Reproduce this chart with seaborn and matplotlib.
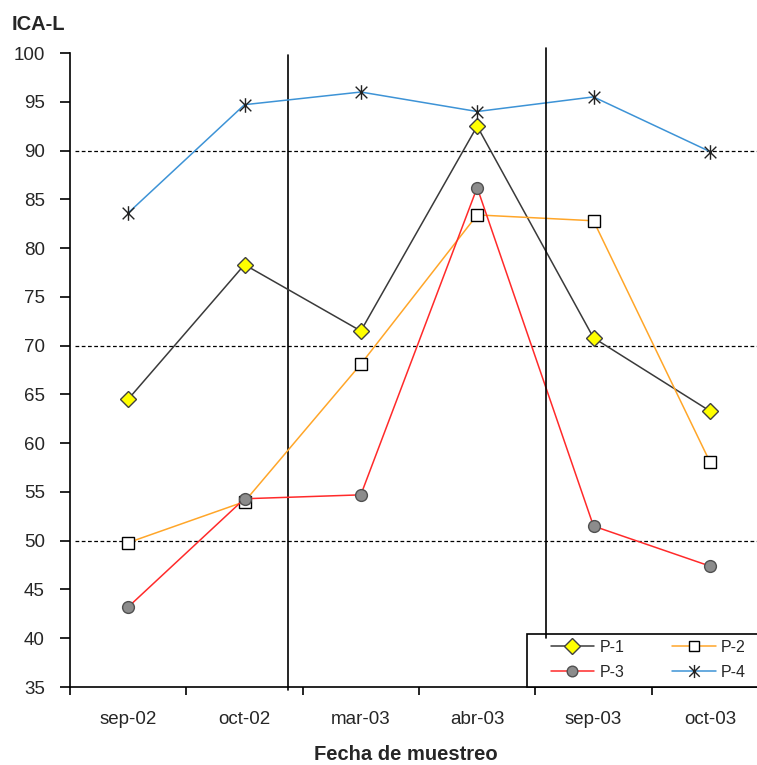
import numpy as np
import pandas as pd
import matplotlib
matplotlib.use("Agg")
import matplotlib.pyplot as plt
from matplotlib.path import Path
from matplotlib.lines import Line2D
from matplotlib.patches import Rectangle
import seaborn as sns

# Datos
fechas = ["sep-02", "oct-02", "mar-03", "abr-03", "sep-03", "oct-03"]
p1 = [64.5, 78.3, 71.5, 92.5, 70.8, 63.3]
p2 = [49.8, 54.0, 68.1, 83.4, 82.8, 58.1]
p3 = [43.2, 54.3, 54.7, 86.2, 51.5, 47.4]
p4 = [83.6, 94.7, 96.0, 94.0, 95.5, 89.9]
y_ticks = [35, 40, 45, 50, 55, 60, 65, 70, 75, 80, 85, 90, 95, 100]
lineas_ref = [50, 70, 90]

df = pd.DataFrame({"fecha": fechas, "P-1": p1, "P-2": p2, "P-3": p3, "P-4": p4})
df_long = df.melt(id_vars="fecha", var_name="punto", value_name="ica")

sns.set_theme(style="white")
plt.rcParams["font.family"] = ["Liberation Sans", "DejaVu Sans"]

# marcador tipo asterisco de Excel
estrella = Path([(0, -1), (0, 1), (-0.8, -0.8), (0.8, 0.8), (-0.8, 0.8), (0.8, -0.8)],
                [Path.MOVETO, Path.LINETO, Path.MOVETO, Path.LINETO, Path.MOVETO, Path.LINETO])

estilos = {
    "P-1": dict(color="#3a3a3a", marker="D", mfc="#ffff00", mec="#404040", ms=8.5),
    "P-2": dict(color="#ffa629", marker="s", mfc="white", mec="black", ms=8.5),
    "P-3": dict(color="#ff2a2a", marker="o", mfc="#8c8c8c", mec="#505050", ms=8.5),
    "P-4": dict(color="#3d93d6", marker=estrella, mfc="black", mec="#222222", ms=10.5),
}

fig = plt.figure(figsize=(7.57, 7.65), dpi=100)
ax = fig.add_axes([70 / 757, 78 / 765, 698 / 757, 634 / 765])

for punto, st in estilos.items():
    sub = df_long[df_long["punto"] == punto]
    sns.lineplot(data=sub, x="fecha", y="ica", sort=False, ax=ax, color=st["color"],
                 linewidth=1.1, marker=st["marker"], markersize=st["ms"],
                 markerfacecolor=st["mfc"], markeredgecolor=st["mec"],
                 markeredgewidth=1.0, label=punto, legend=False)

# lineas de referencia
for v in lineas_ref:
    ax.axhline(v, xmin=0.007, xmax=1, color="black", lw=0.9, ls=(0, (3, 2)), zorder=1)

# separadores verticales
ax.axvline(1.374, ymin=-0.005, ymax=0.997, color="black", lw=1.2, clip_on=False, zorder=1)
ax.axvline(3.592, ymin=0.077, ymax=1.008, color="black", lw=1.2, clip_on=False, zorder=6)

ax.set_xlim(-0.5, 5.5)
ax.set_ylim(35, 100)
ax.set_yticks(y_ticks)
ax.set_xticks(range(len(fechas)))
ax.set_xticklabels(fechas)
ax.set_xticks(np.arange(-0.5, len(fechas), 1), minor=True)
ax.tick_params(axis="x", which="major", length=0, pad=17, labelsize=13.5)
ax.tick_params(axis="x", which="minor", length=6, width=1.2, direction="out", color="black", bottom=True)
ax.tick_params(axis="y", length=7, width=1.2, direction="out", color="black", left=True,
               pad=11, labelsize=13.5)
ax.set_xlabel("")
ax.set_ylabel("")

for s in ["top", "right"]:
    ax.spines[s].set_visible(False)
for s in ["left", "bottom"]:
    ax.spines[s].set_color("black")
    ax.spines[s].set_linewidth(1.2)

# leyenda: marco aparte y entradas por filas
caja = Rectangle((0.655, 0), 0.4, 0.0836, transform=ax.transAxes, fill=True, facecolor="white",
                 edgecolor="black", lw=1.2, clip_on=False, zorder=4)
ax.add_patch(caja)
orden = ["P-1", "P-3", "P-2", "P-4"]
handles = [Line2D([], [], color=estilos[k]["color"], lw=1.1, marker=estilos[k]["marker"],
                  ms=estilos[k]["ms"] * 0.9, mfc=estilos[k]["mfc"], mec=estilos[k]["mec"])
           for k in orden]
leg = ax.legend(handles, orden, ncol=2, loc="center left",
                bbox_to_anchor=(0.689, 0.043), fontsize=11.5, frameon=False,
                handlelength=2.7, handletextpad=0.35, borderaxespad=0, borderpad=0,
                labelspacing=0.6, columnspacing=3.0)
leg.set_zorder(5)

fig.text(12 / 757, 1 - 25 / 765, "ICA-L", fontsize=14.5, fontweight="bold", va="center", ha="left")
fig.text(406 / 757, 1 - 755 / 765, "Fecha de muestreo", fontsize=14.5, fontweight="bold",
         va="center", ha="center")

fig.savefig("out.png", dpi=100)
